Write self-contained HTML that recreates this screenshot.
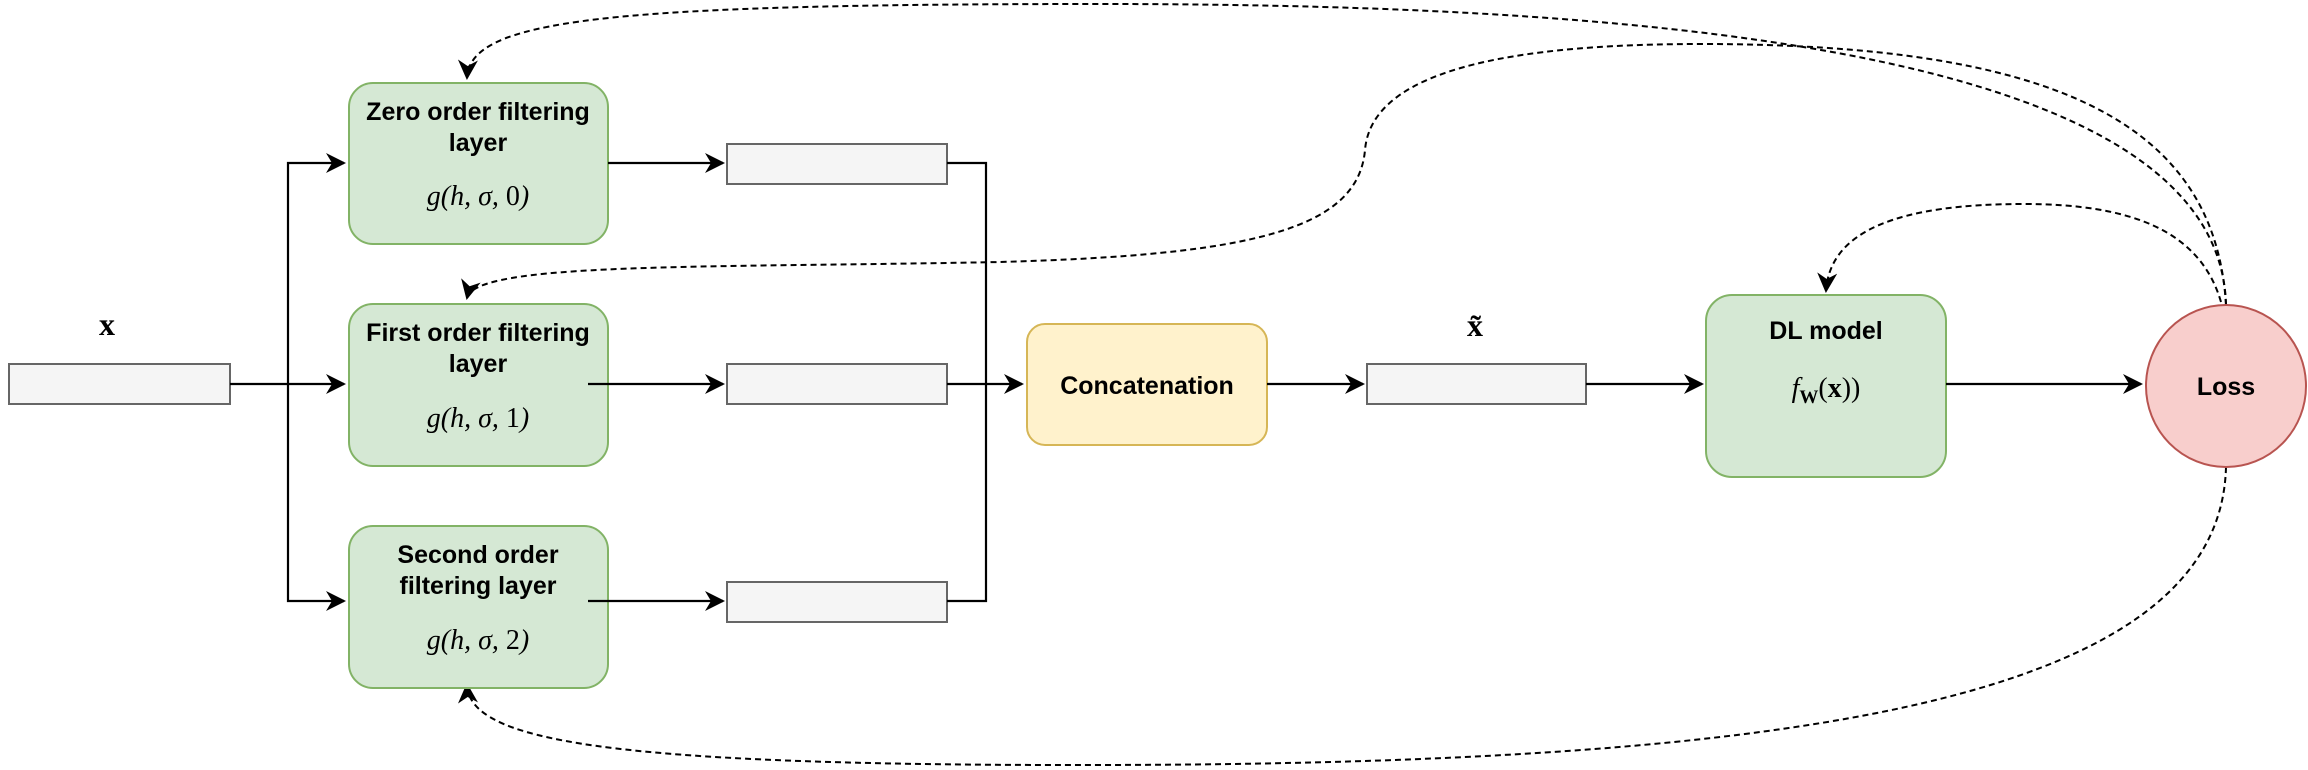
<!DOCTYPE html>
<html><head><meta charset="utf-8"><style>
html,body{margin:0;padding:0;background:#fff;}
svg{display:block;}
.t{font-family:"Liberation Sans",Arial,sans-serif;font-weight:bold;font-size:25px;fill:#000;text-anchor:middle;}
.m{font-family:"Liberation Serif",serif;font-style:italic;font-size:28px;fill:#000;text-anchor:middle;}
.n{font-style:normal;}
</style></head><body>
<svg width="2308" height="770" viewBox="0 0 2308 770" xmlns="http://www.w3.org/2000/svg">
<defs>
<marker id="b" viewBox="0 0 10 10" refX="9" refY="5" markerWidth="20" markerHeight="20" markerUnits="userSpaceOnUse" orient="auto">
<path d="M0,0 L10,5 L0,10 L3,5 Z" fill="#000"/></marker>
</defs>
<g stroke="#000" stroke-width="2" fill="none" stroke-dasharray="6,4">
<path d="M2226,305 C2220,60 1700,4 1100,4 C600,4 470,20 467,78" marker-end="url(#b)"/>
<path d="M2226,305 C2215,120 2050,44 1700,44 C1450,44 1370,90 1365,150 C1358,230 1250,255 1000,262 C700,268 475,262 467,298" marker-end="url(#b)"/>
<path d="M2221,302 C2200,230 2130,204 2024,204 C1900,204 1830,230 1826,291" marker-end="url(#b)"/>
<path d="M2226,467 C2220,700 1800,764 1100,765 C600,766 470,740 467,685" marker-end="url(#b)"/>
</g>
<!-- boxes -->
<rect x="9" y="364" width="221" height="40" fill="#f5f5f5" stroke="#666" stroke-width="2"/>
<rect x="727" y="144" width="220" height="40" fill="#f5f5f5" stroke="#666" stroke-width="2"/>
<rect x="727" y="364" width="220" height="40" fill="#f5f5f5" stroke="#666" stroke-width="2"/>
<rect x="727" y="582" width="220" height="40" fill="#f5f5f5" stroke="#666" stroke-width="2"/>
<rect x="1367" y="364" width="219" height="40" fill="#f5f5f5" stroke="#666" stroke-width="2"/>
<rect x="349" y="83" width="259" height="161" rx="24" fill="#d5e8d4" stroke="#82b366" stroke-width="2"/>
<rect x="349" y="304" width="259" height="162" rx="24" fill="#d5e8d4" stroke="#82b366" stroke-width="2"/>
<rect x="349" y="526" width="259" height="162" rx="24" fill="#d5e8d4" stroke="#82b366" stroke-width="2"/>
<rect x="1027" y="324" width="240" height="121" rx="18" fill="#fff2cc" stroke="#d6b656" stroke-width="2"/>
<rect x="1706" y="295" width="240" height="182" rx="26" fill="#d5e8d4" stroke="#82b366" stroke-width="2"/>
<ellipse cx="2226" cy="386" rx="80" ry="81" fill="#f8cecc" stroke="#b85450" stroke-width="2"/>
<g stroke="#000" stroke-width="2.2" fill="none">
<line x1="230" y1="384" x2="344" y2="384" marker-end="url(#b)"/>
<polyline points="288,384 288,163 344,163" marker-end="url(#b)"/>
<polyline points="288,384 288,601 344,601" marker-end="url(#b)"/>
<line x1="608" y1="163" x2="723" y2="163" marker-end="url(#b)"/>
<line x1="588" y1="384" x2="723" y2="384" marker-end="url(#b)"/>
<line x1="588" y1="601" x2="723" y2="601" marker-end="url(#b)"/>
<polyline points="947,163 986,163 986,601 947,601"/>
<line x1="947" y1="384" x2="1022" y2="384" marker-end="url(#b)"/>
<line x1="1267" y1="384" x2="1363" y2="384" marker-end="url(#b)"/>
<line x1="1586" y1="384" x2="1702" y2="384" marker-end="url(#b)"/>
<line x1="1946" y1="384" x2="2141" y2="384" marker-end="url(#b)"/>
</g>
<!-- text -->
<text class="t" x="478" y="120">Zero order filtering</text>
<text class="t" x="478" y="151">layer</text>
<text class="m" x="478" y="205">g(h, σ, <tspan class="n">0</tspan>)</text>
<text class="t" x="478" y="341">First order filtering</text>
<text class="t" x="478" y="372">layer</text>
<text class="m" x="478" y="427">g(h, σ, <tspan class="n">1</tspan>)</text>
<text class="t" x="478" y="563">Second order</text>
<text class="t" x="478" y="594">filtering layer</text>
<text class="m" x="478" y="649">g(h, σ, <tspan class="n">2</tspan>)</text>
<text class="t" x="1147" y="394">Concatenation</text>
<text class="t" x="1826" y="339">DL model</text>
<text class="m" x="1826" y="397">f<tspan font-size="19" dy="6" font-style="normal" font-weight="bold">W</tspan><tspan dy="-6" class="n">(</tspan><tspan class="n" font-weight="bold">x</tspan><tspan class="n">))</tspan></text>
<text class="t" x="2226" y="395">Loss</text>
<text x="107" y="335" font-family="Liberation Serif,serif" font-weight="bold" font-size="32" text-anchor="middle">x</text>
<text x="1475" y="336" font-family="Liberation Serif,serif" font-weight="bold" font-size="32" text-anchor="middle">x̃</text>
</svg>
</body></html>
